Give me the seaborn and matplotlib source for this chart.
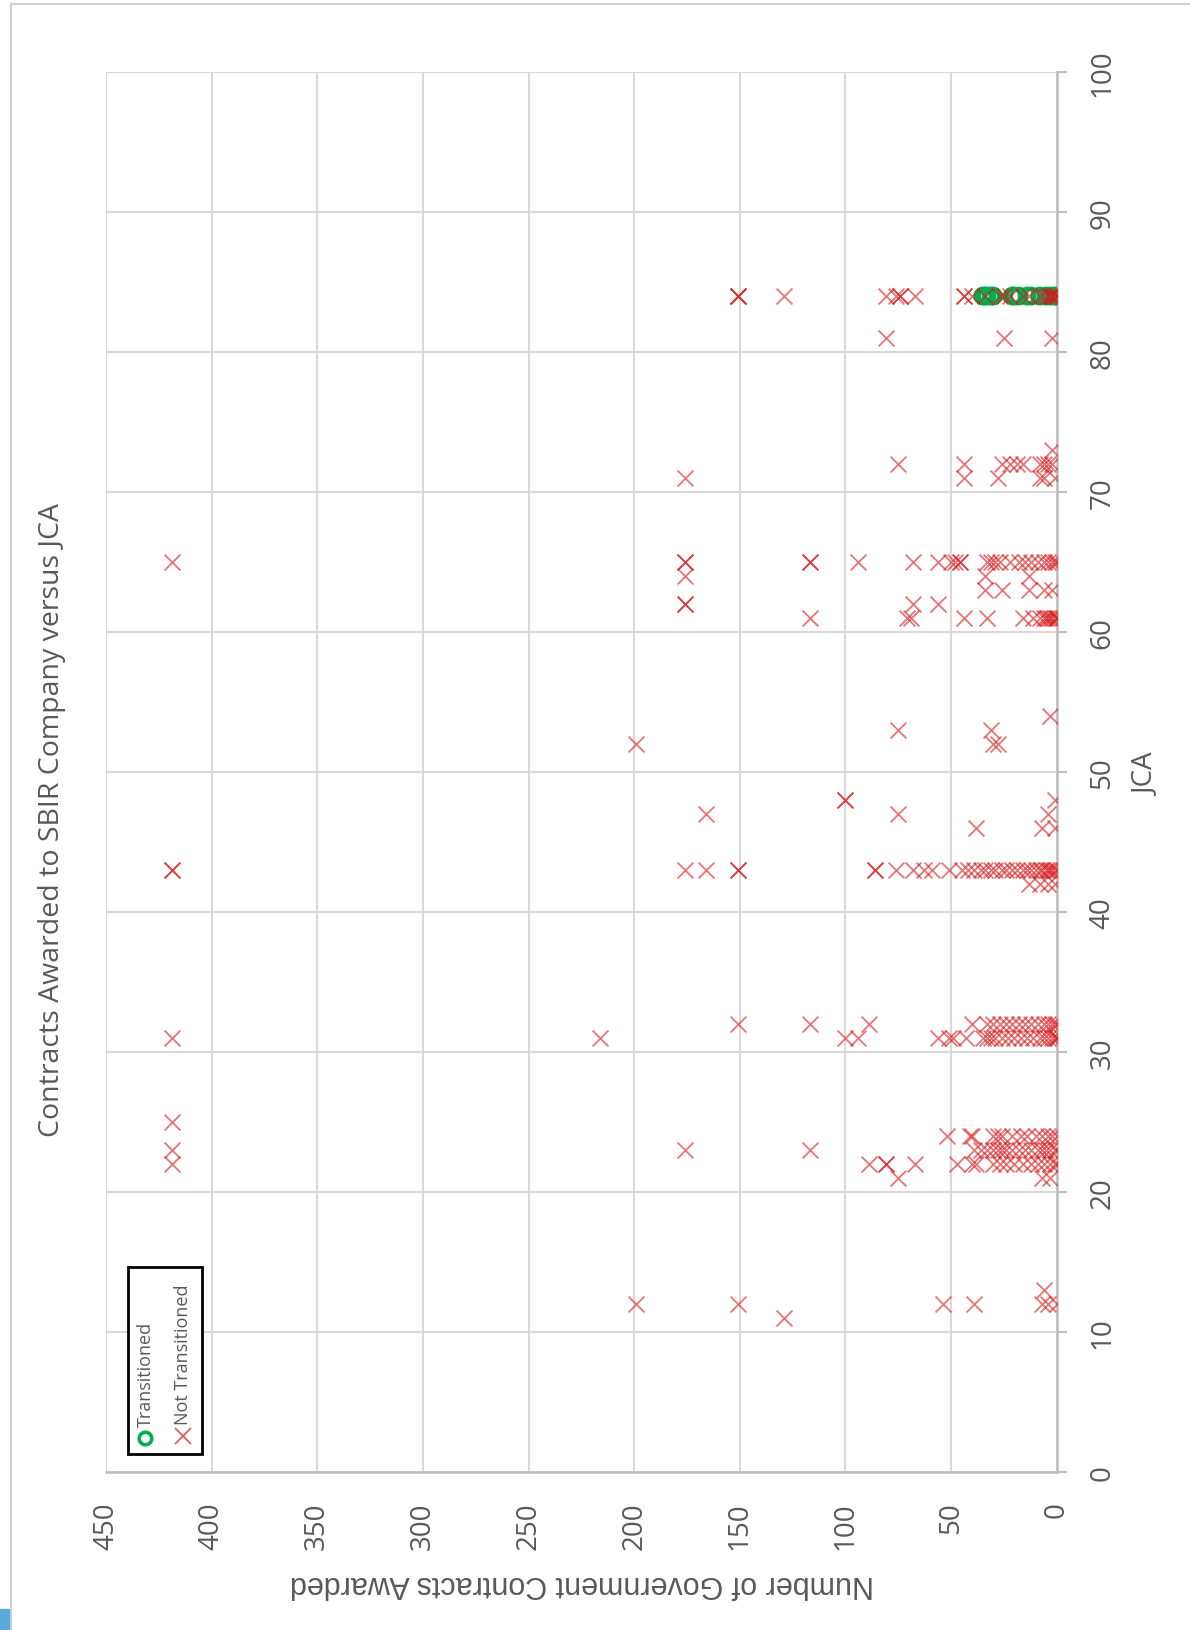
import pandas as pd
import matplotlib
matplotlib.use("Agg")
import matplotlib.pyplot as plt
import seaborn as sns
from matplotlib.lines import Line2D
from matplotlib.patches import Rectangle

# JCA rows and the contract counts (Not Transitioned)
jca_rows = [84, 81, 73, 72, 71, 65, 64, 63, 62, 61, 54, 53, 52, 48, 47, 46,
            43, 42, 32, 31, 25, 24, 23, 22, 21, 13, 12, 11]
not_contracts = [
    [151, 151, 151, 129, 81, 76, 74, 74, 67, 44, 44, 40, 34, 27, 25, 22, 16,
     13, 8, 6, 4, 3, 2, 2, 1, 0, 0],                                      # 84
    [81, 25, 2],                                                          # 81
    [2],                                                                  # 73
    [75, 44, 26, 22, 19, 16, 8, 6, 4, 2],                                 # 72
    [176, 44, 28, 8, 6, 1],                                               # 71
    [419, 176, 176, 117, 117, 94, 68, 56, 50, 48, 46, 46, 33, 31, 29, 27,
     22, 18, 15, 12, 9, 6, 4, 2, 1, 0],                                   # 65
    [176, 34, 13],                                                        # 64
    [34, 26, 13, 6, 2],                                                   # 63
    [176, 176, 68, 56],                                                   # 62
    [117, 71, 69, 44, 33, 16, 11, 8, 6, 5, 4, 3, 2, 1, 0, 0],             # 61
    [3],                                                                  # 54
    [75, 31],                                                             # 53
    [199, 30, 28],                                                        # 52
    [100, 100, 1],                                                        # 48
    [166, 75, 4],                                                         # 47
    [38, 7, 1],                                                           # 46
    [419, 419, 176, 166, 151, 151, 86, 86, 76, 68, 63, 59, 51, 45, 42, 39,
     36, 34, 31, 29, 26, 24, 21, 19, 16, 14, 12, 10, 8, 7, 5, 4, 3, 2, 1,
     0],                                                                  # 43
    [13, 8, 4, 1],                                                        # 42
    [151, 117, 89, 40, 33, 30, 27, 24, 21, 18, 15, 12, 9, 6, 4, 2, 1,
     0],                                                                  # 32
    [419, 216, 100, 94, 56, 51, 49, 43, 35, 33, 31, 29, 26, 23, 20, 17, 14,
     11, 8, 6, 4, 2, 1, 0, 0],                                            # 31
    [419],                                                                # 25
    [52, 41, 40, 30, 28, 26, 21, 17, 14, 10, 7, 4, 2, 0],                 # 24
    [419, 176, 117, 39, 36, 33, 30, 28, 26, 24, 21, 18, 15, 12, 9, 7, 5, 3,
     1, 0],                                                               # 23
    [419, 89, 81, 81, 67, 47, 40, 38, 30, 27, 24, 20, 16, 12, 9, 6, 3, 1,
     0],                                                                  # 22
    [75, 7, 3],                                                           # 21
    [6],                                                                  # 13
    [199, 151, 54, 39, 7, 4, 0],                                          # 12
    [129],                                                                # 11
]

# Transitioned companies (all at JCA 84)
trans_jca = 84
trans_contracts = [35, 34, 33, 31, 30, 21, 20, 18, 14, 12, 8, 5, 3, 1, 0]

nt = pd.DataFrame(
    [(c, j) for j, vals in zip(jca_rows, not_contracts) for c in vals],
    columns=["contracts", "jca"])
tr = pd.DataFrame({"contracts": trans_contracts,
                   "jca": [trans_jca] * len(trans_contracts)})

sns.set_theme(style="white")
plt.rcParams["font.family"] = ["Open Sans", "DejaVu Sans"]

grey = "#595959"
red = "#D7191C"
green = "#00B050"

fig = plt.figure(figsize=(11.9, 16.31), dpi=100)
ax = fig.add_axes([0.0891, 0.0969, 0.7989, 0.8583])

sns.scatterplot(data=tr, x="contracts", y="jca", marker="o", s=120,
                facecolors="none", edgecolor=green, linewidth=2.6,
                ax=ax, legend=False, zorder=3)
sns.scatterplot(data=nt, x="contracts", y="jca", marker="x", s=130,
                color=red, alpha=0.6, linewidth=1.3, ax=ax, legend=False,
                zorder=4)

ax.set_xlim(450, 0)
ax.set_ylim(0, 100)
ax.set_xticks(range(0, 451, 50))
ax.set_yticks(range(0, 101, 10))
ax.yaxis.tick_right()
ax.set_xlabel("")
ax.set_ylabel("")

ax.grid(True, color="#D9D9D9", linewidth=1.5)
ax.set_axisbelow(True)
for side in ["left", "top"]:
    ax.spines[side].set_visible(False)
for side in ["right", "bottom"]:
    ax.spines[side].set_color("#BFBFBF")
    ax.spines[side].set_linewidth(1.8)

ax.tick_params(axis="x", length=0, pad=21, labelrotation=90,
               labelsize=20, labelcolor=grey)
ax.tick_params(axis="y", right=True, left=False, direction="out", length=7,
               width=1.5, color="#BFBFBF", pad=16, labelrotation=90,
               labelsize=20, labelcolor=grey)
for lab in ax.get_yticklabels():
    lab.set_va("center")

# titles and axis labels (chart is turned on its side)
fig.text(0.044, 0.497, "Contracts Awarded to SBIR Company versus JCA",
         rotation=90, ha="center", va="center", fontsize=20.5, color=grey)
fig.text(0.963, 0.525, "JCA", rotation=90, ha="center", va="center",
         fontsize=20, color=grey)
fig.text(0.489, 0.029, "Number of Government Contracts Awarded",
         rotation=180, ha="center", va="center", fontsize=22, color=grey,
         family="Liberation Sans")

# legend box, drawn by hand because its text runs vertically
ax.add_patch(Rectangle((0.0231, 0.0129), 0.0778, 0.1335, transform=ax.transAxes,
                       fill=True, facecolor="white", edgecolor="black",
                       linewidth=2, zorder=6))
ax.add_line(Line2D([0.0415], [0.0243], transform=ax.transAxes, marker="o",
                   markersize=9, markerfacecolor="none", markeredgecolor=green,
                   markeredgewidth=2.6, linestyle="none", zorder=7))
ax.add_line(Line2D([0.081], [0.0257], transform=ax.transAxes, marker="x",
                   markersize=11, color=red, alpha=0.7, markeredgewidth=1.3,
                   linestyle="none", zorder=7))
ax.text(0.0415, 0.033, "Transitioned", transform=ax.transAxes, rotation=90,
        ha="center", va="bottom", fontsize=13, color=grey, zorder=7)
ax.text(0.081, 0.034, "Not Transitioned", transform=ax.transAxes, rotation=90,
        ha="center", va="bottom", fontsize=13, color=grey, zorder=7)

# outer frame and the small blue corner mark
fig.add_artist(Rectangle((11 / 1190, -0.01), 1.02, 1.01 - 5 / 1631,
                         transform=fig.transFigure, fill=False,
                         edgecolor="#D0D0D0", linewidth=1.5))
fig.add_artist(Rectangle((0, 0), 9 / 1190, 21 / 1631, transform=fig.transFigure,
                         color="#5DA9D8"))

fig.savefig("out.png", dpi=100)
